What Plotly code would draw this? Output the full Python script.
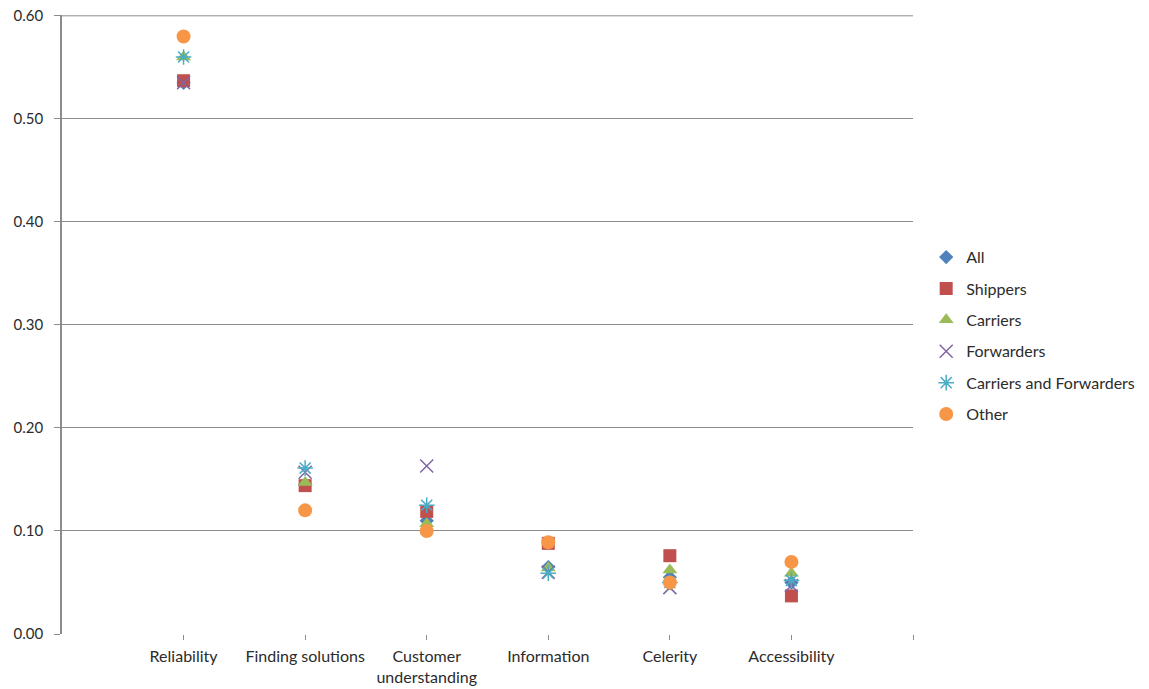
import plotly.graph_objects as go

# Service attributes and their scores by respondent group
categories = ["Reliability", "Finding solutions", "Customer<br>understanding",
              "Information", "Celerity", "Accessibility"]

all_resp = [0.535, 0.145, 0.110, 0.065, 0.055, 0.050]
shippers = [0.537, 0.144, 0.119, 0.088, 0.076, 0.037]
carriers = [0.560, 0.147, 0.107, 0.064, 0.062, 0.059]
forwarders = [0.535, 0.157, 0.163, 0.060, 0.045, 0.047]
carriers_forwarders = [0.560, 0.161, 0.125, 0.059, 0.050, 0.052]
other = [0.580, 0.120, 0.100, 0.089, 0.050, 0.070]

y_ticks = [0.0, 0.1, 0.2, 0.3, 0.4, 0.5, 0.6]

positions = list(range(1, len(categories) + 1))

series = [
    ("All", all_resp, "diamond", "#4F81BD", 11, 0),
    ("Shippers", shippers, "square", "#C0504D", 13, 0),
    ("Carriers", carriers, "triangle-up", "#9BBB59", 13, 0),
    ("Forwarders", forwarders, "x-thin-open", "#8064A2", 13, 1.5),
    ("Carriers and Forwarders", carriers_forwarders, "asterisk-open", "#4BACC6", 13, 1.5),
    ("Other", other, "circle", "#F79646", 14, 0),
]

fig = go.Figure()
for name, vals, sym, col, size, lw in series:
    fig.add_trace(go.Scatter(
        x=positions, y=vals, mode="markers", name=name, legendgroup=name,
        marker=dict(symbol=sym, color=col, size=size,
                    line=dict(color=col, width=lw)),
        cliponaxis=False,
    ))

font_family = "Lato, 'Open Sans', sans-serif"
text_col = "#2b2b2b"
grid_col = "#8c8c8c"

# Top gridline at the upper end of the value axis
fig.add_shape(type="line", xref="paper", yref="y", x0=0, x1=1,
              y0=y_ticks[-1], y1=y_ticks[-1],
              line=dict(color=grid_col, width=1), layer="below")

fig.update_layout(
    width=1149, height=689,
    margin=dict(l=62, r=236, t=15, b=55, autoexpand=False),
    plot_bgcolor="white", paper_bgcolor="white",
    font=dict(family=font_family, size=16, color=text_col),
    showlegend=True,
    legend=dict(x=1.0155, y=0.482, xanchor="left", yanchor="middle",
                font=dict(size=16, color=text_col),
                tracegroupgap=7.6, itemwidth=30,
                bgcolor="rgba(0,0,0,0)"),
    xaxis=dict(
        range=[0, 7], tickvals=positions + [7], ticktext=categories + [""],
        showgrid=False, zeroline=False, showline=False, automargin=False,
        ticks="outside", ticklen=5, tickcolor=grid_col,
        ticklabelstandoff=3,
        tickfont=dict(size=16, color=text_col),
    ),
    yaxis=dict(
        range=[0, 0.6008], tickvals=y_ticks, tickformat=".2f",
        showgrid=True, gridcolor=grid_col, gridwidth=1, automargin=False,
        zeroline=False, showline=True, linecolor=grid_col, linewidth=1.5,
        ticks="outside", ticklen=6, tickcolor=grid_col,
        ticklabelstandoff=8,
        tickfont=dict(size=15, color=text_col),
    ),
)

fig.write_html("out.html")
